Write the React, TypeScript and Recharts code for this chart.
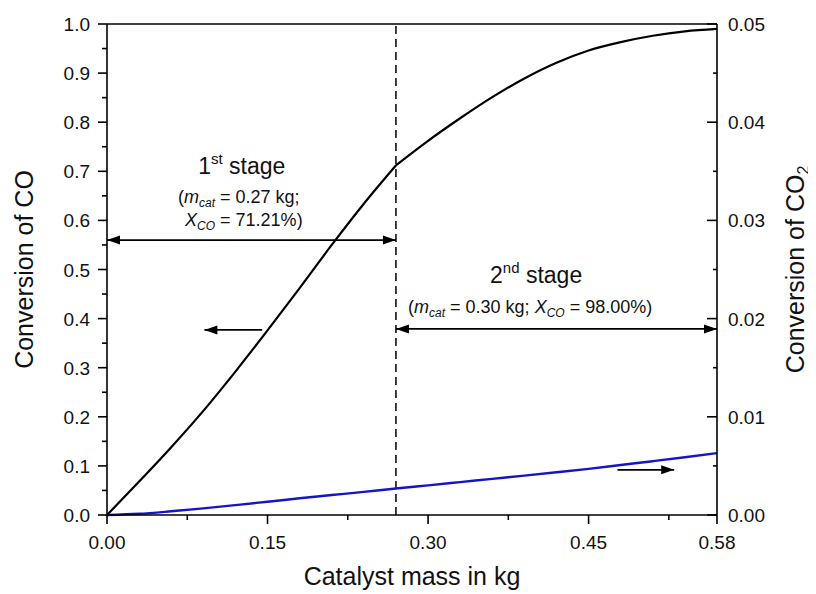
import React from 'react';
import { ComposedChart, Line, XAxis, YAxis, ReferenceLine, ReferenceDot } from 'recharts';

// catalyst mass (kg), shared grid
const massKg = [0, 0.03, 0.06, 0.09, 0.12, 0.15, 0.18, 0.21, 0.24, 0.27, 0.3, 0.33, 0.36, 0.39, 0.42, 0.45, 0.48, 0.51, 0.54, 0.57];
// conversion of CO, stage 1 (up to 0.27 kg) and stage 2 (from 0.27 kg)
const coStage1 = [0, 0.068, 0.138, 0.212, 0.292, 0.376, 0.462, 0.55, 0.634, 0.712];
const coStage2 = [0.712, 0.762, 0.808, 0.851, 0.889, 0.921, 0.946, 0.963, 0.976, 0.985, 0.99];
// conversion of CO2 (right axis)
const co2Conv = [0, 0.00012, 0.00038, 0.00068, 0.00101, 0.00135, 0.0017, 0.00203, 0.00236, 0.0027, 0.00302, 0.00335, 0.00368, 0.00401, 0.00435, 0.0047, 0.00509, 0.00548, 0.00588, 0.0063];

const xMajorTicks = [0, 0.15, 0.3, 0.45, 0.57];
const xMajorLabels = ['0.00', '0.15', '0.30', '0.45', '0.58'];
const xMinorTicks = [0.075, 0.225, 0.375, 0.525];
const leftMajorTicks = [0, 0.1, 0.2, 0.3, 0.4, 0.5, 0.6, 0.7, 0.8, 0.9, 1.0];
const leftMinorTicks = [0.05, 0.15, 0.25, 0.35, 0.45, 0.55, 0.65, 0.75, 0.85, 0.95];
const rightMajorTicks = [0, 0.01, 0.02, 0.03, 0.04, 0.05];
const rightMinorTicks = [0.005, 0.015, 0.025, 0.035, 0.045];

const stageSplit = 0.27;

const n1 = coStage1.length;
const data = massKg.map((m, i) => ({
  m,
  co1: i < n1 ? coStage1[i] : null,
  co2: i >= n1 - 1 ? coStage2[i - (n1 - 1)] : null,
  cotwo: co2Conv[i],
}));

// annotation anchors (data coords)
const notes = {
  arrow1Y: 0.56,
  arrow2Y: 0.379,
  leftArrow: { y: 0.377, from: 0.145, to: 0.091 },
  rightArrow: { y: 0.092, from: 0.477, to: 0.53 },
  stage1: { x: 0.126, y: 0.694 },
  stage2: { x: 0.401, y: 0.4725 },
};

const FONT = '"Liberation Sans", Arial, sans-serif';
const INK = '#111';
const AX = 1.6;

const XTick = (props: any) => {
  const { x, y, payload } = props;
  const i = xMajorTicks.indexOf(payload.value);
  const major = i >= 0;
  return (
    <g>
      <line x1={x} y1={y} x2={x} y2={y + (major ? 9 : 5)} stroke="#000" strokeWidth={AX} />
      {major && (
        <text x={x} y={y + 34} textAnchor="middle" fontSize={19} fontFamily={FONT} fill={INK}>
          {xMajorLabels[i]}
        </text>
      )}
    </g>
  );
};

const LeftTick = (props: any) => {
  const { x, y, payload } = props;
  const major = leftMajorTicks.indexOf(payload.value) >= 0;
  return (
    <g>
      <line x1={x} y1={y} x2={x - (major ? 9 : 5)} y2={y} stroke="#000" strokeWidth={AX} />
      {major && (
        <text x={x - 17} y={y + 7} textAnchor="end" fontSize={19} fontFamily={FONT} fill={INK}>
          {payload.value.toFixed(1)}
        </text>
      )}
    </g>
  );
};

const RightTick = (props: any) => {
  const { x, y, payload } = props;
  const major = rightMajorTicks.indexOf(payload.value) >= 0;
  return (
    <g>
      <line x1={x} y1={y} x2={x - (major ? 10 : 4)} y2={y} stroke="#000" strokeWidth={AX} />
      {major && (
        <text x={x + 11} y={y + 7} textAnchor="start" fontSize={19} fontFamily={FONT} fill={INK}>
          {payload.value.toFixed(2)}
        </text>
      )}
    </g>
  );
};

const head = (tx: number, ty: number, dir: number) => {
  const L = 13;
  const W = 4.5;
  return <polygon points={`${tx},${ty} ${tx - dir * L},${ty - W} ${tx - dir * L},${ty + W}`} fill="#000" />;
};

const arrowShape = (start: boolean, end: boolean) => (p: any) => {
  const { x1, y1, x2, y2 } = p;
  const dir = x2 > x1 ? 1 : -1;
  return (
    <g>
      <line x1={x1} y1={y1} x2={x2} y2={y2} stroke="#000" strokeWidth={1.8} />
      {end && head(x2, y2, dir)}
      {start && head(x1, y1, -dir)}
    </g>
  );
};

const Stage1Text = (p: any) => {
  const { cx, cy } = p;
  return (
    <g fontFamily={FONT} fill={INK}>
      <text x={cx} y={cy} textAnchor="middle" fontSize={23}>
        1<tspan fontSize={15} dy={-10}>st</tspan>
        <tspan dy={10}> stage</tspan>
      </text>
      <text x={cx - 3} y={cy + 29} textAnchor="middle" fontSize={18}>
        (<tspan fontStyle="italic">m</tspan>
        <tspan fontStyle="italic" fontSize={12} dy={4}>cat</tspan>
        <tspan dy={-4}> = 0.27 kg;</tspan>
      </text>
      <text x={cx + 2} y={cy + 52} textAnchor="middle" fontSize={18}>
        <tspan fontStyle="italic">X</tspan>
        <tspan fontStyle="italic" fontSize={12} dy={4}>CO</tspan>
        <tspan dy={-4}> = 71.21%)</tspan>
      </text>
    </g>
  );
};

const Stage2Text = (p: any) => {
  const { cx, cy } = p;
  return (
    <g fontFamily={FONT} fill={INK}>
      <text x={cx} y={cy} textAnchor="middle" fontSize={23}>
        2<tspan fontSize={15} dy={-10}>nd</tspan>
        <tspan dy={10}> stage</tspan>
      </text>
      <text x={cx - 6} y={cy + 30} textAnchor="middle" fontSize={18}>
        (<tspan fontStyle="italic">m</tspan>
        <tspan fontStyle="italic" fontSize={12} dy={4}>cat</tspan>
        <tspan dy={-4}> = 0.30 kg; </tspan>
        <tspan fontStyle="italic">X</tspan>
        <tspan fontStyle="italic" fontSize={12} dy={4}>CO</tspan>
        <tspan dy={-4}> = 98.00%)</tspan>
      </text>
    </g>
  );
};

const XTitle = (p: any) => {
  const vb = p.viewBox;
  return (
    <text x={vb.x + vb.width / 2} y={vb.y + 70} textAnchor="middle" fontSize={25} fontFamily={FONT} fill={INK}>
      Catalyst mass in kg
    </text>
  );
};

const LeftTitle = (p: any) => {
  const vb = p.viewBox;
  const x = vb.x + 25;
  const y = vb.y + vb.height / 2;
  return (
    <text x={x} y={y} transform={`rotate(-90 ${x} ${y})`} textAnchor="middle" fontSize={25} fontFamily={FONT} fill={INK}>
      Conversion of CO
    </text>
  );
};

const RightTitle = (p: any) => {
  const vb = p.viewBox;
  const x = vb.x + 87;
  const y = vb.y + vb.height / 2;
  return (
    <text x={x} y={y} transform={`rotate(-90 ${x} ${y})`} textAnchor="middle" fontSize={25} fontFamily={FONT} fill={INK}>
      Conversion of CO<tspan fontSize={16} dy={5}>2</tspan>
    </text>
  );
};

export default function App() {
  return (
    <div style={{ width: 808, height: 586, background: '#fff' }}>
      <ComposedChart width={808} height={586} data={data} margin={{ top: 16, right: 0, bottom: 0, left: 0 }}>
        <XAxis
          dataKey="m"
          type="number"
          domain={[0, 0.57]}
          ticks={[...xMajorTicks, ...xMinorTicks]}
          interval={0}
          allowDataOverflow
          height={79}
          tickSize={0}
          tickMargin={0}
          tickLine={false}
          tick={<XTick />}
          axisLine={{ stroke: '#000', strokeWidth: AX }}
          label={XTitle}
        />
        <YAxis
          yAxisId="left"
          type="number"
          domain={[0, 1]}
          ticks={[...leftMajorTicks, ...leftMinorTicks]}
          interval={0}
          width={99}
          tickSize={0}
          tickMargin={0}
          tickLine={false}
          tick={<LeftTick />}
          axisLine={{ stroke: '#000', strokeWidth: AX }}
          label={LeftTitle}
        />
        <YAxis
          yAxisId="right"
          orientation="right"
          type="number"
          domain={[0, 0.05]}
          ticks={[...rightMajorTicks, ...rightMinorTicks]}
          interval={0}
          width={99}
          tickSize={0}
          tickMargin={0}
          tickLine={false}
          tick={<RightTick />}
          axisLine={{ stroke: '#000', strokeWidth: AX }}
          label={RightTitle}
        />
        <ReferenceLine yAxisId="left" y={1} stroke="#000" strokeWidth={AX} ifOverflow="visible" />
        <ReferenceLine yAxisId="left" x={stageSplit} stroke="#000" strokeWidth={1.5} strokeDasharray="8 5" />
        <ReferenceLine
          yAxisId="left"
          ifOverflow="visible"
          segment={[{ x: 0, y: notes.arrow1Y }, { x: stageSplit, y: notes.arrow1Y }]}
          shape={arrowShape(true, true)}
        />
        <ReferenceLine
          yAxisId="left"
          ifOverflow="visible"
          segment={[{ x: stageSplit, y: notes.arrow2Y }, { x: 0.57, y: notes.arrow2Y }]}
          shape={arrowShape(true, true)}
        />
        <ReferenceLine
          yAxisId="left"
          ifOverflow="visible"
          segment={[{ x: notes.leftArrow.from, y: notes.leftArrow.y }, { x: notes.leftArrow.to, y: notes.leftArrow.y }]}
          shape={arrowShape(false, true)}
        />
        <ReferenceLine
          yAxisId="left"
          ifOverflow="visible"
          segment={[{ x: notes.rightArrow.from, y: notes.rightArrow.y }, { x: notes.rightArrow.to, y: notes.rightArrow.y }]}
          shape={arrowShape(false, true)}
        />
        <Line yAxisId="left" dataKey="co1" type="monotone" stroke="#000" strokeWidth={2.2} dot={false} isAnimationActive={false} />
        <Line yAxisId="left" dataKey="co2" type="monotone" stroke="#000" strokeWidth={2.2} dot={false} isAnimationActive={false} />
        <Line yAxisId="right" dataKey="cotwo" type="monotone" stroke="#1515c8" strokeWidth={2.4} dot={false} isAnimationActive={false} />
        <ReferenceDot yAxisId="left" x={notes.stage1.x} y={notes.stage1.y} r={0} ifOverflow="visible" shape={Stage1Text} />
        <ReferenceDot yAxisId="left" x={notes.stage2.x} y={notes.stage2.y} r={0} ifOverflow="visible" shape={Stage2Text} />
      </ComposedChart>
    </div>
  );
}
